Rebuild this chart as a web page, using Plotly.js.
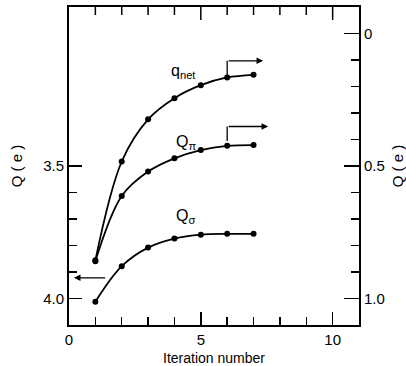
<!DOCTYPE html>
<html><head><meta charset="utf-8">
<script src="https://cdn.plot.ly/plotly-3.0.1.min.js"></script>
<style>html,body{margin:0;padding:0;background:#fff}</style>
</head><body><div id="chart" style="width:406px;height:366px"></div>
<script>
// Data
const iterations = [1, 2, 3, 4, 5, 6, 7];
const qNet   = [0.856, 0.483, 0.324, 0.244, 0.195, 0.166, 0.156]; // right axis Q(e)
const qPi    = [0.859, 0.613, 0.521, 0.471, 0.440, 0.424, 0.421]; // right axis Q(e)
const qSigma = [4.012, 3.878, 3.808, 3.774, 3.759, 3.756, 3.756]; // left axis Q(e)

const xTicks = [0, 5, 10];
const xTickText = ['0', '5', '10'];
const xMinor = [1, 2, 3, 4, 6, 7, 8, 9];
const leftTicks = [3.5, 4.0];
const leftTickText = ['3.5', '4.0'];
const leftMinor = [3.6, 3.7, 3.8, 3.9];
const rightTicks = [0, 0.5, 1.0];
const rightTickText = ['0', '0.5', '1.0'];
const rightMinor = [0.1, 0.2, 0.3, 0.4, 0.6, 0.7, 0.8, 0.9];

const FONT = '"Liberation Sans", Arial, sans-serif';
const line = {color: '#000', width: 1.8, shape: 'spline'};
const marker = {color: '#000', size: 6};

const traces = [
  {x: iterations, y: qNet, yaxis: 'y2', mode: 'lines+markers', line, marker, name: 'q_net'},
  {x: iterations, y: qPi, yaxis: 'y2', mode: 'lines+markers', line, marker, name: 'Q_pi'},
  {x: iterations, y: qSigma, yaxis: 'y', mode: 'lines+markers', line, marker, name: 'Q_sigma'}
];

const arrowAnn = (x, y, ax, ay, yref) => ({
  x, y, ax, ay, xref: 'x', yref, axref: 'x', ayref: yref, text: '',
  showarrow: true, arrowhead: 2, arrowsize: 1, arrowwidth: 1.3, arrowcolor: '#000'
});

// Right axis range (reversed): top of the frame is Y2_TOP
const Y2_RANGE = [1.1, -0.1];
const Y2_TOP = Y2_RANGE[1];
const PX_PER_UNIT = (366 - 7 - 41) / (Y2_RANGE[0] - Y2_RANGE[1]);
// Top-frame ticks (mirror of the iteration axis ticks), drawn against the right axis scale
const topTick = (v, len) => ({
  type: 'line', xref: 'x', yref: 'y2', x0: v, x1: v, y0: Y2_TOP, y1: Y2_TOP + len / PX_PER_UNIT,
  line: {color: '#000', width: 1.5}, layer: 'above'
});
const topTicks = xMinor.map(v => topTick(v, 8)).concat(xTicks.filter(v => v > 0).map(v => topTick(v, 13)));

const layout = {
  width: 406, height: 366,
  margin: {l: 69, r: 47, t: 7, b: 41},
  paper_bgcolor: '#fff', plot_bgcolor: '#fff',
  showlegend: false,
  font: {family: FONT, size: 15, color: '#000'},
  xaxis: {
    range: [0, 11], showgrid: false, zeroline: false,
    showline: true, linecolor: '#000', linewidth: 2, mirror: true,
    ticks: 'inside', ticklen: 13, tickwidth: 1.5, tickcolor: '#000',
    tickmode: 'array', tickvals: xTicks, ticktext: xTickText,
    minor: {tickmode: 'array', tickvals: xMinor, ticks: 'inside', ticklen: 8, tickwidth: 1.5, tickcolor: '#000', showgrid: false},
    title: {text: 'Iteration number', font: {size: 14}, standoff: 7}
  },
  yaxis: {
    range: [4.1, 2.9], showgrid: false, zeroline: false,
    showline: true, linecolor: '#000', linewidth: 2,
    ticks: 'inside', ticklen: 13, tickwidth: 1.5, tickcolor: '#000',
    tickmode: 'array', tickvals: leftTicks, ticktext: leftTickText,
    minor: {tickmode: 'array', tickvals: leftMinor, ticks: 'inside', ticklen: 8, tickwidth: 1.5, tickcolor: '#000', showgrid: false},
    title: {text: 'Q ( e )', font: {size: 15}, standoff: 17}
  },
  yaxis2: {
    overlaying: 'y', side: 'right',
    range: Y2_RANGE, showgrid: false, zeroline: false,
    showline: true, linecolor: '#000', linewidth: 2,
    ticks: 'inside', ticklen: 15, tickwidth: 1.5, tickcolor: '#000',
    tickmode: 'array', tickvals: rightTicks, ticktext: rightTickText,
    minor: {tickmode: 'array', tickvals: rightMinor, ticks: 'inside', ticklen: 8, tickwidth: 1.5, tickcolor: '#000', showgrid: false},
    title: {text: 'Q ( e )', font: {size: 15}, standoff: 11}
  },
  shapes: [
    {type: 'line', xref: 'x', yref: 'y2', x0: 6, x1: 6, y0: 0.160, y1: 0.103, line: {color: '#000', width: 1.3}},
    {type: 'line', xref: 'x', yref: 'y2', x0: 6, x1: 6, y0: 0.406, y1: 0.351, line: {color: '#000', width: 1.3}}
  ].concat(topTicks),
  annotations: [
    arrowAnn(7.36, 0.103, 6, 0.103, 'y2'),
    arrowAnn(7.55, 0.351, 6, 0.351, 'y2'),
    arrowAnn(0.19, 3.922, 1.43, 3.922, 'y'),
    {x: 4.36, y: 3.145, xref: 'x', yref: 'y', text: 'q<sub>net</sub>', showarrow: false, font: {size: 16}},
    {x: 4.43, y: 3.41, xref: 'x', yref: 'y', text: 'Q<sub>π</sub>', showarrow: false, font: {size: 16}},
    {x: 4.43, y: 3.69, xref: 'x', yref: 'y', text: 'Q<sub>σ</sub>', showarrow: false, font: {size: 16}}
  ]
};

Plotly.newPlot('chart', traces, layout, {displayModeBar: false, staticPlot: true});
</script>
</body></html>
